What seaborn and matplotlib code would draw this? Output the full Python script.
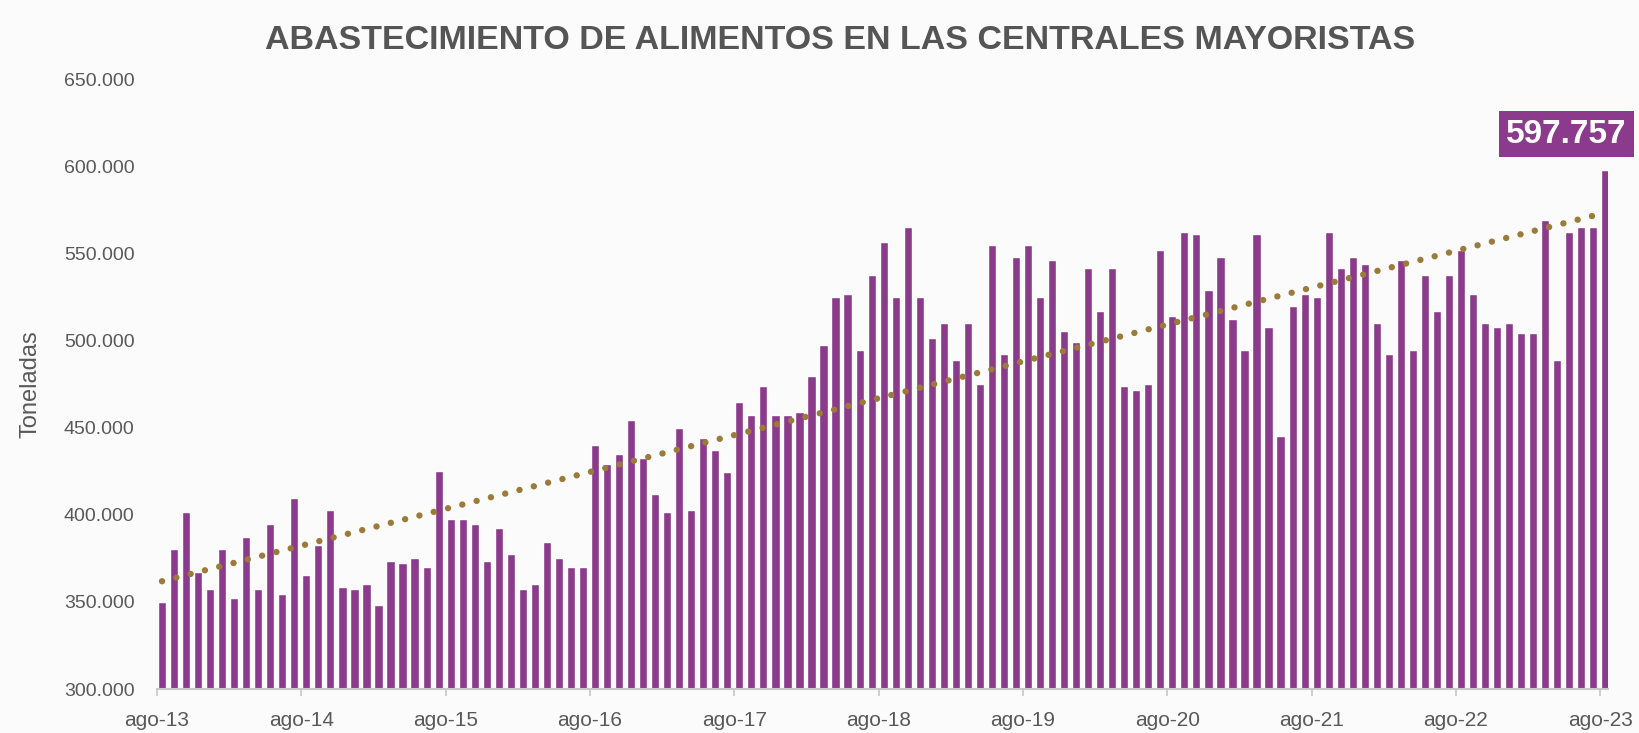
"""Abastecimiento mensual de alimentos en las centrales mayoristas (ago-13 a ago-23)."""

import matplotlib

matplotlib.use("Agg")
import matplotlib.pyplot as plt  # noqa: E402
import numpy as np  # noqa: E402
import pandas as pd  # noqa: E402
import seaborn as sns  # noqa: E402

TITLE = "ABASTECIMIENTO DE ALIMENTOS EN LAS CENTRALES MAYORISTAS"
Y_LABEL = "Toneladas"

# monthly series, ago-2013 .. ago-2023 (tonnes)
MONTHS = pd.date_range("2013-08-01", "2023-08-01", freq="MS")
TONELADAS = [
    350000, 380100, 401800, 367300, 357200, 380100, 352500, 387000, 357200, 394900, 354700, 409700,
    365300, 382600, 402800, 358400, 357200, 360400, 348100, 373200, 372200, 375200, 369800, 425000,
    397400, 397400, 394900, 373200, 392400, 377600, 357200, 360400, 384500, 375200, 369800, 369800,
    439800, 429400, 435100, 454500, 432600, 412200, 401800, 449900, 403000, 444200, 437300, 424500,
    464900, 457000, 473800, 457000, 457000, 459000, 479900, 497200, 524800, 526800, 494700, 537400,
    556600, 524800, 565000, 524800, 501600, 509800, 489100, 509800, 475000, 554600, 492300, 547700,
    554600, 524800, 546500, 505300, 499200, 541600, 516700, 541600, 473800, 471800, 475000, 552200,
    514200, 562500, 561300, 529000, 547700, 512200, 494700, 561300, 507500, 445400, 520100, 526800,
    524800, 562500, 541600, 547700, 544000, 509800, 492300, 546500, 494700, 537400, 516700, 537400,
    552200, 526800, 509800, 507500, 509800, 504300, 504300, 569300, 489100, 562500, 565000, 565000,
    597757,
]
TICK_LABELS = ["ago-13", "ago-14", "ago-15", "ago-16", "ago-17", "ago-18",
               "ago-19", "ago-20", "ago-21", "ago-22", "ago-23"]
Y_TICKS = [300000, 350000, 400000, 450000, 500000, 550000, 600000, 650000]

BAR_COLOR = "#8C3A8C"
TREND_COLOR = "#9C7A3A"
TEXT_COLOR = "#595959"
BG = "#fbfbfb"

sns.set_theme(style="white")
plt.rcParams["font.family"] = ["Liberation Sans", "DejaVu Sans"]

df = pd.DataFrame({"mes": MONTHS.strftime("%Y-%m"), "toneladas": TONELADAS})

fig = plt.figure(figsize=(16.4, 7.33), dpi=100, facecolor=BG)
ax = fig.add_axes([0.0957, 0.060, 0.885, 0.832], facecolor=BG)

sns.barplot(data=df, x="mes", y="toneladas", color=BAR_COLOR, saturation=1,
            width=0.68, ax=ax)

# linear trend over the whole period
idx = np.arange(len(TONELADAS))
slope, intercept = np.polyfit(idx, TONELADAS, 1)
ax.plot(idx, slope * idx + intercept, color=TREND_COLOR, lw=4.6,
        linestyle=(0, (0.01, 2.3)), dash_capstyle="round")

ax.set_ylim(Y_TICKS[0], Y_TICKS[-1])
ax.set_xlim(-0.42, len(TONELADAS) - 0.75)
ax.set_yticks(Y_TICKS)
ax.set_yticklabels([f"{v:,}".replace(",", ".") for v in Y_TICKS])
ax.set_xticks(np.arange(0, len(TONELADAS), 12) - 0.42)
ax.set_xticklabels(TICK_LABELS)

ax.tick_params(axis="y", length=0, pad=16, labelsize=14, labelcolor=TEXT_COLOR)
ax.tick_params(axis="x", length=5, width=1.2, color="#c8c8c8", pad=11,
               labelsize=15, labelcolor=TEXT_COLOR, bottom=True)
for side in ("top", "right", "left"):
    ax.spines[side].set_visible(False)
ax.spines["bottom"].set_color("#c8c8c8")
ax.spines["bottom"].set_linewidth(1.5)

ax.set_xlabel("")
ax.set_ylabel(Y_LABEL, fontsize=17, color=TEXT_COLOR, labelpad=16)
fig.text(0.512, 0.945, TITLE, ha="center", va="center", fontsize=24.5,
         fontweight="bold", color="#555555")

# callout on the latest month
last = len(TONELADAS) - 1
ax.annotate(f"{TONELADAS[-1]:,}".replace(",", "."), xy=(last, TONELADAS[-1]),
            xytext=(-28, 26), textcoords="offset points", ha="center", va="center",
            fontsize=24, fontweight="bold", color="white",
            bbox=dict(boxstyle="square,pad=0.22", fc=BAR_COLOR, ec="none"))

fig.savefig("out.png", dpi=100, facecolor=BG)
